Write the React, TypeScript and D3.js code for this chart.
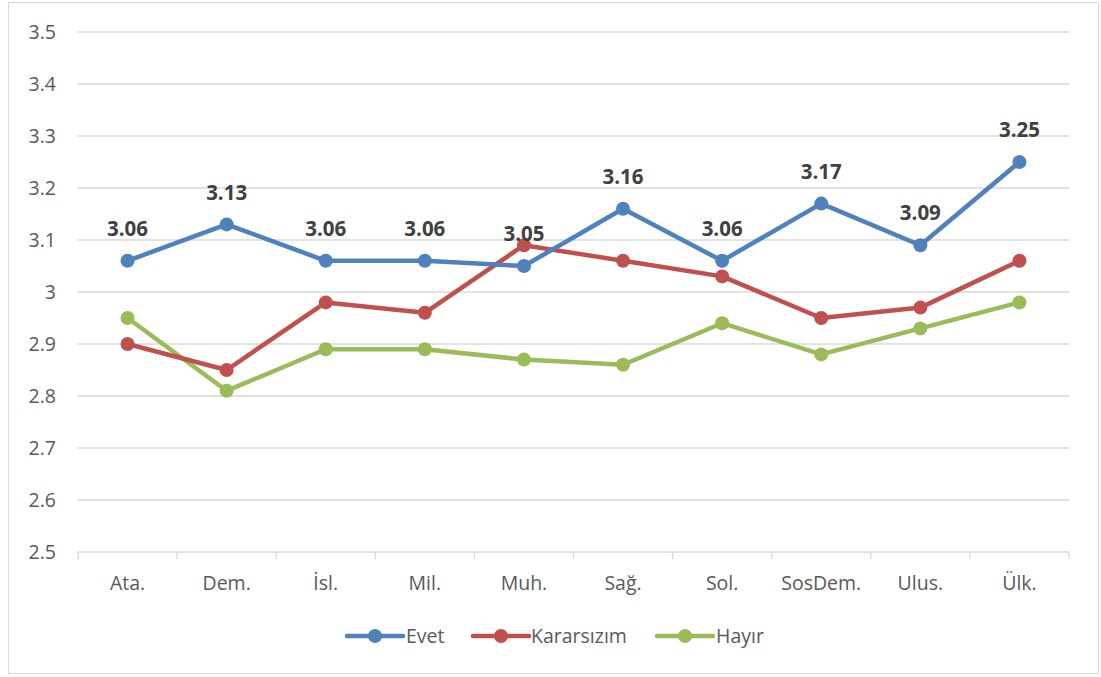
import React from "react";
import * as d3 from "d3";

const categories = ["Ata.", "Dem.", "İsl.", "Mil.", "Muh.", "Sağ.", "Sol.", "SosDem.", "Ulus.", "Ülk."];
const evet = [3.06, 3.13, 3.06, 3.06, 3.05, 3.16, 3.06, 3.17, 3.09, 3.25];
const kararsizim = [2.9, 2.85, 2.98, 2.96, 3.09, 3.06, 3.03, 2.95, 2.97, 3.06];
const hayir = [2.95, 2.81, 2.89, 2.89, 2.87, 2.86, 2.94, 2.88, 2.93, 2.98];
const yTicks = [2.5, 2.6, 2.7, 2.8, 2.9, 3, 3.1, 3.2, 3.3, 3.4, 3.5];

const series = [
  { name: "Evet", values: evet, color: "#4F81BD", labels: true },
  { name: "Kararsızım", values: kararsizim, color: "#C0504D", labels: false },
  { name: "Hayır", values: hayir, color: "#9BBB59", labels: false },
];

const W = 1101;
const H = 677;
const left = 78;
const right = 1069;
const top = 32;
const bottom = 552;
const font = "'Open Sans', sans-serif";

export default function App() {
  const x = d3.scaleBand<string>().domain(categories).range([left, right]);
  const y = d3.scaleLinear().domain([2.5, 3.5]).range([bottom, top]);
  const cx = (c: string) => (x(c) ?? 0) + x.bandwidth() / 2;
  const line = d3
    .line<number>()
    .x((_, i) => cx(categories[i]))
    .y((v) => y(v));
  const fmt = (v: number) => (v === 3 ? "3" : d3.format(".1f")(v));
  const legend = [
    { x0: 347, tx: 406 },
    { x0: 473, tx: 531 },
    { x0: 657, tx: 716 },
  ];
  return (
    <svg width={W} height={H} style={{ position: "absolute", left: 0, top: 0 }}>
      <rect x={0} y={0} width={W} height={H} fill="#fff" />
      <rect x={8.5} y={2.5} width={1090} height={671} fill="#fff" stroke="#d9d9d9" strokeWidth={1} />
      {yTicks.map((t) => (
        <g key={t}>
          <line x1={left} x2={right} y1={y(t)} y2={y(t)} stroke="#d9d9d9" strokeWidth={1.3} />
          <text x={56} y={y(t)} dy="0.35em" textAnchor="end" fontFamily={font} fontSize={19.5} fill="#595959">
            {fmt(t)}
          </text>
        </g>
      ))}
      {d3.range(categories.length + 1).map((i) => {
        const xx = left + i * x.bandwidth();
        return <line key={i} x1={xx} x2={xx} y1={bottom} y2={bottom + 7} stroke="#d9d9d9" strokeWidth={1.3} />;
      })}
      {categories.map((c) => (
        <text key={c} x={cx(c)} y={583} dy="0.35em" textAnchor="middle" fontFamily={font} fontSize={19.5} fill="#595959">
          {c}
        </text>
      ))}
      {[...series].reverse().map((s) => (
        <g key={s.name}>
          <path d={line(s.values) ?? ""} fill="none" stroke={s.color} strokeWidth={4.5} strokeLinejoin="round" strokeLinecap="round" />
          {s.values.map((v, i) => (
            <circle key={i} cx={cx(categories[i])} cy={y(v)} r={7} fill={s.color} />
          ))}
        </g>
      ))}
      {series
        .filter((s) => s.labels)
        .map((s) =>
          s.values.map((v, i) => (
            <text
              key={s.name + i}
              x={cx(categories[i])}
              y={y(v) - 32}
              dy="0.35em"
              textAnchor="middle"
              fontFamily={font}
              fontSize={20.5}
              fontWeight="bold"
              fill="#404040"
            >
              {d3.format(".2f")(v)}
            </text>
          ))
        )}
      {series.map((s, i) => (
        <g key={s.name}>
          <line x1={legend[i].x0} x2={legend[i].x0 + 56} y1={636} y2={636} stroke={s.color} strokeWidth={4.5} strokeLinecap="round" />
          <circle cx={legend[i].x0 + 28} cy={636} r={7} fill={s.color} />
          <text x={legend[i].tx} y={636} dy="0.35em" fontFamily={font} fontSize={19.5} fill="#595959">
            {s.name}
          </text>
        </g>
      ))}
    </svg>
  );
}
